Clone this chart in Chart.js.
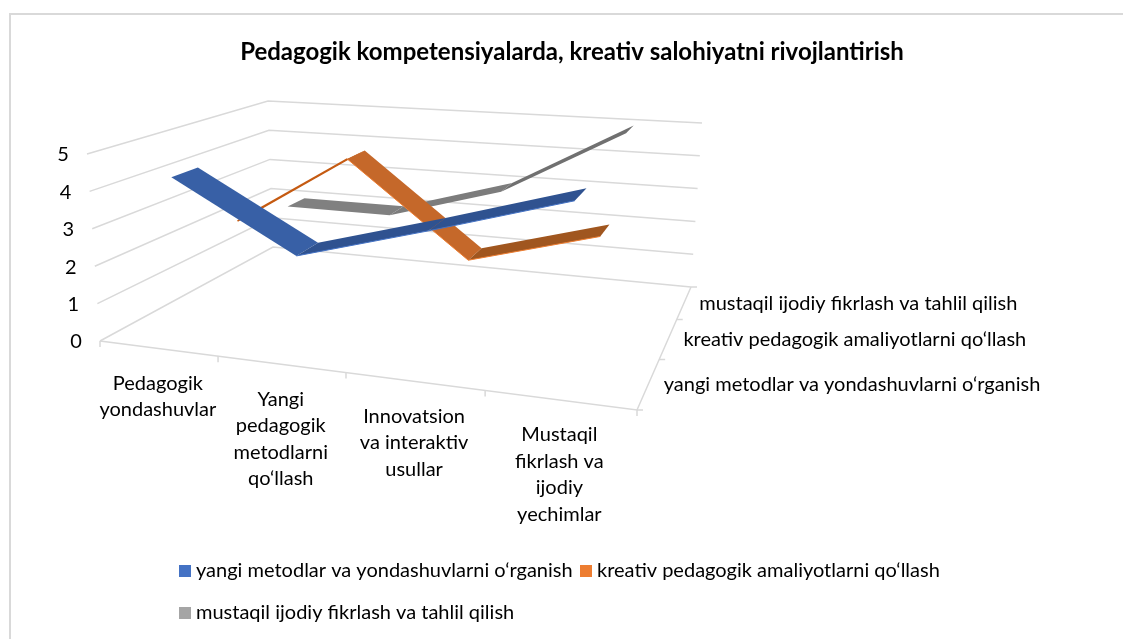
<!DOCTYPE html>
<html>
<head>
<meta charset="utf-8">
<style>
  html, body { margin: 0; padding: 0; background: #fff; }
  canvas { display: block; }
</style>
<script src="https://cdn.jsdelivr.net/npm/chart.js@4"></script>
</head>
<body>
<canvas id="myChart" width="1123" height="639"></canvas>
<script>
const titleText = "Pedagogik kompetensiyalarda, kreativ salohiyatni rivojlantirish";
const categories = [
  ["Pedagogik", "yondashuvlar"],
  ["Yangi", "pedagogik", "metodlarni", "qo‘llash"],
  ["Innovatsion", "va interaktiv", "usullar"],
  ["Mustaqil", "fikrlash va", "ijodiy", "yechimlar"]
];
const seriesNames = [
  "yangi metodlar va yondashuvlarni o‘rganish",
  "kreativ pedagogik amaliyotlarni qo‘llash",
  "mustaqil ijodiy fikrlash va tahlil qilish"
];
const blueValues = [4.3, 2.5, 3.5, 4.6];
const orangeValues = [2.3, 4.4, 1.8, 2.8];
const greyValues = [2, 2, 3, 5];
const valueTicks = [0, 1, 2, 3, 4, 5];

// the box the 3D view sits in: [u, v] corners at value 0 and at value 5
const floorCorners = { fl: [100, 341], fr: [637, 410], bl: [273, 247], br: [691, 287] };
const topCorners = { fl: [87, 154], fr: [646, 202], bl: [268, 101], br: [702, 123] };
const legendColors = ["#4472C4", "#ED7D31", "#A5A5A5"];
const ribbonColors = [
  ["#3860A6", "#2F5290", "#2F5290"],
  ["#C55A11", "#C5682A", "#A0561F"],
  ["#808080", "#7C7C7C", "#707070"]
];
const edgeColors = [
  [null, "#4472C4", "#4472C4"],
  ["#C55A11", "#ED7D31", "#ED7D31"],
  [null, null, null]
];
const gridColor = "#D9D9D9";
const fontName = "Lato, sans-serif";
const titleSize = 24, titlePadTop = 37.5, leftPad = 21;
const titleHeight = titlePadTop + titleSize * 1.2;

// perspective squeeze along the two floor directions
const persp = (t, r) => t / (t + (1 - t) * r);
const lerp = (a, b, t) => [a[0] + (b[0] - a[0]) * t, a[1] + (b[1] - a[1]) * t];

function project(u, v, value) {
  const pu = persp(u, 1.183), pv = persp(v, 0.72);
  const base = lerp(lerp(floorCorners.fl, floorCorners.fr, pu), lerp(floorCorners.bl, floorCorners.br, pu), pv);
  const top = lerp(lerp(topCorners.fl, topCorners.fr, pu), lerp(topCorners.bl, topCorners.br, pu), pv);
  const p = lerp(base, top, value / 5);
  return { x: p[0], y: p[1] };
}

const catU = i => (i + 0.5) / categories.length;
const serV = s => (s + 0.5) / seriesNames.length;
const ribbonHalf = 0.065;

function plainLine(points, color, width) {
  return { data: points, showLine: true, borderColor: color, borderWidth: width, pointRadius: 0, fill: false };
}

const ribbonSets = [];
[blueValues, orangeValues, greyValues].forEach((vals, s) => {
  for (let i = vals.length - 2; i >= 0; i--) {
    const v0 = serV(s) - ribbonHalf, v1 = serV(s) + ribbonHalf;
    const a = project(catU(i), v0, vals[i]);
    const b = project(catU(i + 1), v0, vals[i + 1]);
    const c = project(catU(i + 1), v1, vals[i + 1]);
    const d = project(catU(i), v1, vals[i]);
    if (edgeColors[s][i]) ribbonSets.push(plainLine([a, b], edgeColors[s][i], i ? 1 : 1.5));
    ribbonSets.push({ data: [a, b, c, d], showLine: false, pointRadius: 0, ribbonFill: ribbonColors[s][i] });
  }
});

const gridSets = [];
valueTicks.forEach(t => {
  gridSets.push(plainLine([project(0, 0, t), project(0, 1, t), project(1, 1, t)], gridColor, 1.5));
});
gridSets.push(plainLine([project(0, 0, 0), project(1, 0, 0), project(1, 1, 0)], gridColor, 1.5));
for (let i = 0; i <= categories.length; i++) {
  const p = project(i / categories.length, 0, 0);
  gridSets.push(plainLine([p, { x: p.x, y: p.y + 6 }], gridColor, 1.5));
}
for (let s = 0; s <= seriesNames.length; s++) {
  const p = project(1, s / seriesNames.length, 0);
  gridSets.push(plainLine([p, { x: p.x + 6, y: p.y }], gridColor, 1.5));
}

const labelPlugin = {
  id: "labels3d",
  beforeDatasetDraw(chart, args) {
    const ds = chart.data.datasets[args.index];
    if (!ds.ribbonFill) return;
    const ctx = chart.ctx;
    ctx.save();
    ctx.beginPath();
    args.meta.data.forEach((pt, i) => i ? ctx.lineTo(pt.x, pt.y) : ctx.moveTo(pt.x, pt.y));
    ctx.closePath();
    ctx.fillStyle = ds.ribbonFill;
    ctx.fill();
    ctx.restore();
  },
  afterDraw(chart) {
    const { ctx, scales } = chart;
    const px = p => ({ x: scales.x.getPixelForValue(p.x), y: scales.y.getPixelForValue(p.y) });
    ctx.save();
    // outer chart frame, cut by the picture on the right and bottom
    ctx.strokeStyle = gridColor;
    ctx.lineWidth = 2;
    ctx.strokeRect(10, 14, 1400, 900);

    ctx.fillStyle = "#000";
    ctx.textBaseline = "middle";
    ctx.font = "20px " + fontName;
    ctx.textAlign = "center";
    valueTicks.forEach(t => {
      const p = px(project(0, 0, t));
      ctx.fillText(String(t), p.x - 24, p.y + 1);
    });
    categories.forEach((lines, i) => {
      const p = px(project(catU(i), 0, 0));
      lines.forEach((line, k) => ctx.fillText(line, p.x, p.y + 35 + k * 26.5));
    });
    ctx.textAlign = "left";
    seriesNames.forEach((name, s) => {
      const p = px(project(1, serV(s), 0));
      ctx.fillText(name, p.x + 15, p.y + 1);
    });
    // legend: two rows like the original
    const legendSpots = [[179, 571], [580, 571], [179, 613]];
    seriesNames.forEach((name, s) => {
      const [lx, ly] = legendSpots[s];
      ctx.fillStyle = legendColors[s];
      ctx.fillRect(lx, ly - 6, 12, 12);
      ctx.fillStyle = "#000";
      ctx.fillText(name, lx + 17, ly);
    });
    ctx.restore();
  }
};

const canvas = document.getElementById("myChart");
// a tiny spacing switches off Lato's ti/fi ligatures, the original has none
canvas.getContext("2d").letterSpacing = "0.05px";

new Chart(canvas, {
  type: "scatter",
  data: { datasets: ribbonSets.concat(gridSets) },
  options: {
    responsive: false,
    animation: false,
    layout: { padding: { left: leftPad } },
    plugins: {
      legend: { display: false },
      tooltip: { enabled: false },
      title: {
        display: true,
        text: titleText,
        color: "#000",
        font: { family: fontName, size: titleSize, weight: "bold" },
        padding: { top: titlePadTop, bottom: 0 }
      }
    },
    scales: {
      x: { type: "linear", display: false, min: leftPad, max: 1123 },
      y: { type: "linear", display: false, min: titleHeight, max: 639, reverse: true }
    }
  },
  plugins: [labelPlugin]
});
</script>
</body>
</html>
